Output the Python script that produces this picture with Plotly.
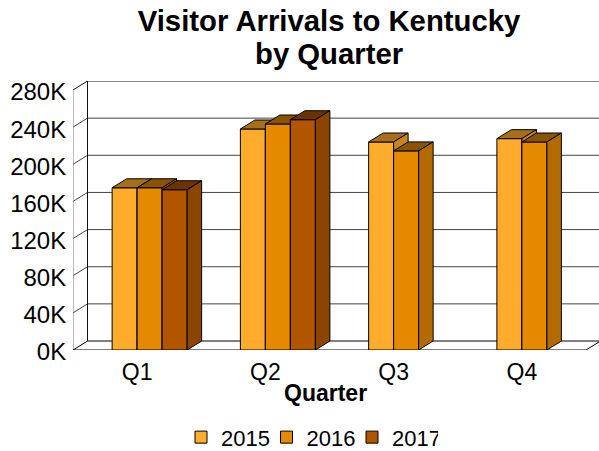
import plotly.graph_objects as go

QUARTERS = ["Q1", "Q2", "Q3", "Q4"]
YEARS = ["2015", "2016", "2017"]
V2015 = [174700, 238000, 224000, 227600]
V2016 = [174700, 243400, 214400, 224000]
V2017 = [172600, 248000, None, None]
SERIES = [V2015, V2016, V2017]
Y_TICKS = [0, 40000, 80000, 120000, 160000, 200000, 240000, 280000]
Y_LABELS = ["0K", "40K", "80K", "120K", "160K", "200K", "240K", "280K"]
FRONT = ["#FFAB2B", "#E58A00", "#B25500"]
TOP = ["#A56F1C", "#8A5300", "#6B3300"]
SIDE = ["#C78520", "#B36B00", "#8B4500"]

W, H = 599, 451
L, R, T, B = 73, 599, 81, 350.5
CAT_PX = 128.25
Y_PX = 260.5 / 280000
DX = 14.5 / CAT_PX
DY = 9 / Y_PX
BAR_W = 25 / CAT_PX
BAR_START = -25 / CAT_PX
X0, XF = -0.5, 3.5
X_RANGE = [X0, X0 + (R - L) / CAT_PX]
Y_RANGE = [0, (B - T) / Y_PX]
FONT = "Liberation Sans"

fig = go.Figure()


def line(xs, ys, color, width=1):
    fig.add_trace(go.Scatter(x=xs, y=ys, mode="lines", line=dict(color=color, width=width),
                             showlegend=False, hoverinfo="skip"))


# walls and floor
for v in Y_TICKS[1:]:
    c = "#111111" if v == Y_TICKS[-1] else "#444444"
    line([X0, X0 + DX, X_RANGE[1]], [v, v + DY, v + DY], c)
line([X0 + DX, X0 + DX], [DY, Y_TICKS[-1] + DY], "#111111")
line([X0, X0], [0, Y_TICKS[-1]], "#777777")
line([X0, X0 + DX, X_RANGE[1]], [0, DY, DY], "#000000")
line([X0, XF, XF + DX], [0, 0, DY], "#000000")

# bars, one overlaid subplot per series so that later series hide earlier sides
for s, vals in enumerate(SERIES):
    ax = str(s + 2)
    off = BAR_START + s * BAR_W
    fig.add_trace(go.Bar(x=list(range(len(QUARTERS))), y=vals, name=YEARS[s], width=BAR_W, offset=off,
                         marker=dict(color=FRONT[s], line=dict(color="#000000", width=1)),
                         xaxis="x" + ax, yaxis="y" + ax, hoverinfo="skip"))
    for q, v in enumerate(vals):
        if v is None:
            continue
        a = q + off
        b = a + BAR_W
        fig.add_trace(go.Scatter(x=[a, b, b + DX, a + DX, a], y=[v, v, v + DY, v + DY, v],
                                 mode="lines", fill="toself", fillcolor=TOP[s],
                                 line=dict(color="#000000", width=1), showlegend=False,
                                 hoverinfo="skip", xaxis="x" + ax, yaxis="y" + ax))
        fig.add_trace(go.Scatter(x=[b, b + DX, b + DX, b, b], y=[0, DY, v + DY, v, 0],
                                 mode="lines", fill="toself", fillcolor=SIDE[s],
                                 line=dict(color="#000000", width=1), showlegend=False,
                                 hoverinfo="skip", xaxis="x" + ax, yaxis="y" + ax))

layout = dict(
    width=W, height=H, margin=dict(l=L, r=W - R, t=T, b=H - B, pad=0, autoexpand=False),
    paper_bgcolor="#FFFFFF", plot_bgcolor="rgba(0,0,0,0)",
    font=dict(family=FONT, color="#000000", size=23),
    title=dict(text="<b>Visitor Arrivals to Kentucky</b>", font=dict(size=29.3),
               x=329 / W, xanchor="center", xref="container", y=1 - 21 / H, yanchor="middle", yref="container"),
    xaxis=dict(range=X_RANGE, tickmode="array", tickvals=list(range(len(QUARTERS))), ticktext=QUARTERS,
               showgrid=False, zeroline=False, showline=False, ticks="outside", ticklen=1,
               tickcolor="rgba(0,0,0,0)", tickfont=dict(size=23)),
    yaxis=dict(range=Y_RANGE, tickmode="array", tickvals=Y_TICKS, ticktext=Y_LABELS,
               showgrid=False, zeroline=False, showline=False, ticks="outside", ticklen=1,
               tickcolor="rgba(0,0,0,0)", tickfont=dict(size=24), ticklabelshift=2),
    showlegend=True,
    legend=dict(orientation="h", x=(181 - L) / (R - L), xanchor="left", y=(B - 438) / (B - T), yanchor="middle",
                font=dict(size=22), entrywidth=40.5, entrywidthmode="pixels", traceorder="normal",
                bgcolor="rgba(0,0,0,0)"),
    annotations=[
        dict(text="<b>by Quarter</b>", x=(329 - L) / (R - L), y=(B - 53) / (B - T), xref="paper", yref="paper",
             xanchor="center", yanchor="middle", showarrow=False, font=dict(size=29.3)),
        dict(text="<b>Quarter</b>", x=(325 - L) / (R - L), y=(B - 394) / (B - T), xref="paper", yref="paper",
             xanchor="center", yanchor="middle", showarrow=False, font=dict(size=23)),
    ],
)
for s in range(len(SERIES)):
    ax = str(s + 2)
    layout["xaxis" + ax] = dict(range=X_RANGE, overlaying="x", visible=False)
    layout["yaxis" + ax] = dict(range=Y_RANGE, overlaying="y", visible=False)
fig.update_layout(**layout)
fig.write_html("out.html", config={"displayModeBar": False}, post_script="document.body.style.margin='0';")
